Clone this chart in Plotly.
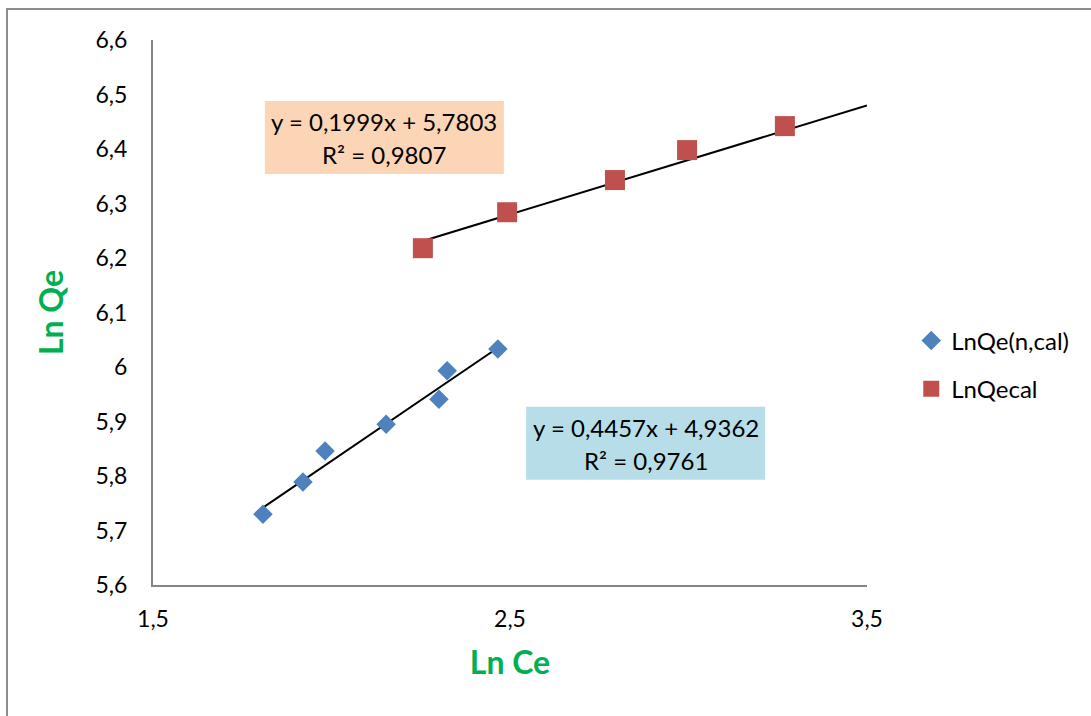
import plotly.graph_objects as go

# ---- data ----
x_ncal = [1.808, 1.920, 1.982, 2.153, 2.301, 2.324, 2.466]
y_ncal = [5.730, 5.789, 5.846, 5.895, 5.941, 5.993, 6.033]
x_cal = [2.256, 2.492, 2.794, 2.996, 3.270]
y_cal = [6.218, 6.284, 6.343, 6.398, 6.442]
names = ["LnQe(n,cal)", "LnQecal"]

slope_ncal, icpt_ncal, r2_ncal = 0.4457, 4.9362, 0.9761
slope_cal, icpt_cal, r2_cal = 0.1999, 5.7803, 0.9807
cal_forecast_end = 3.5

x_ticks = [1.5, 2.5, 3.5]
x_ticktext = ["1,5", "2,5", "3,5"]
y_ticks = [5.6, 5.7, 5.8, 5.9, 6.0, 6.1, 6.2, 6.3, 6.4, 6.5, 6.6]
y_ticktext = ["5,6", "5,7", "5,8", "5,9", "6", "6,1", "6,2", "6,3", "6,4", "6,5", "6,6"]

BLUE = "#4F81BD"
RED = "#C0504D"
GREEN = "#00B050"
FONT = "Lato"

def fmt(v, d=4):
    return f"{v:.{d}f}".replace(".", ",")

fig = go.Figure()

# trendlines
tx1 = [min(x_ncal), max(x_ncal)]
fig.add_trace(go.Scatter(x=tx1, y=[slope_ncal * v + icpt_ncal for v in tx1], mode="lines",
                         line=dict(color="black", width=2), showlegend=False, hoverinfo="skip"))
tx2 = [min(x_cal), cal_forecast_end]
fig.add_trace(go.Scatter(x=tx2, y=[slope_cal * v + icpt_cal for v in tx2], mode="lines",
                         line=dict(color="black", width=2), showlegend=False, hoverinfo="skip"))

fig.add_trace(go.Scatter(x=x_ncal, y=y_ncal, mode="markers", name=names[0], legendgroup="a",
                         marker=dict(symbol="diamond", size=15, color=BLUE)))
fig.add_trace(go.Scatter(x=x_cal, y=y_cal, mode="markers", name=names[1], legendgroup="b",
                         marker=dict(symbol="square", size=20, color=RED)))

# equation boxes
boxes = [
    (2.148, 6.421, "#FBD5B5", slope_cal, icpt_cal, r2_cal),
    (2.880, 5.860, "#B7DEE8", slope_ncal, icpt_ncal, r2_ncal),
]
pxw = 2.0 / 714  # data units per px (x)
pyh = 1.0 / 545  # data units per px (y)
for cx, cy, col, s, b, r2 in boxes:
    fig.add_shape(type="rect", xref="x", yref="y",
                  x0=cx - 119.5 * pxw, x1=cx + 119.5 * pxw,
                  y0=cy - 36.5 * pyh, y1=cy + 36.5 * pyh,
                  fillcolor=col, line=dict(width=0), layer="below")
    fig.add_annotation(x=cx, y=cy + 16 * pyh, xref="x", yref="y", showarrow=False,
                       text=f"y = {fmt(s)}x + {fmt(b)}", font=dict(family=FONT, size=24, color="black"))
    fig.add_annotation(x=cx, y=cy - 17 * pyh, xref="x", yref="y", showarrow=False,
                       text=f"R² = {fmt(r2)}", font=dict(family=FONT, size=24, color="black"))

# outer chart border (only top/left visible)
fig.add_shape(type="rect", xref="paper", yref="paper",
              x0=(7 - 153) / 714, x1=(1100 - 153) / 714,
              y0=(585 - 730) / 545, y1=(585 - 9) / 545,
              line=dict(color="#8C8C8C", width=2), fillcolor="rgba(0,0,0,0)")

fig.update_layout(
    width=1091, height=716,
    margin=dict(l=153, r=224, t=40, b=131),
    paper_bgcolor="white", plot_bgcolor="white",
    font=dict(family=FONT, size=23, color="black"),
    legend=dict(x=1.062, y=0.489, xanchor="left", yanchor="top",
                font=dict(family=FONT, size=24), tracegroupgap=14,
                traceorder="grouped", bgcolor="rgba(0,0,0,0)"),
    xaxis=dict(range=[1.5, 3.5], tickvals=x_ticks, ticktext=x_ticktext,
               showgrid=False, zeroline=False, showline=True, linecolor="#868686", linewidth=2,
               ticks="", ticklabelstandoff=12,
               title=dict(text="<b>Ln Ce</b>", font=dict(family=FONT, size=32, color=GREEN), standoff=21)),
    yaxis=dict(range=[5.6, 6.6], tickvals=y_ticks, ticktext=y_ticktext,
               showgrid=False, zeroline=False, showline=True, linecolor="#868686", linewidth=2,
               ticks="", ticklabelstandoff=19,
               title=dict(text="<b>Ln Qe</b>", font=dict(family=FONT, size=32, color=GREEN), standoff=22)),
)

fig.write_html("out.html")
